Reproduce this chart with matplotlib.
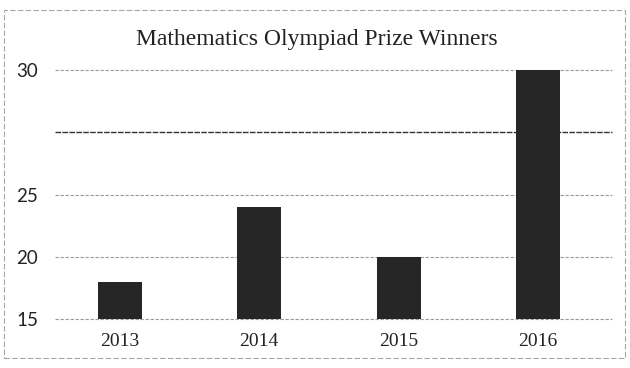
import numpy as np
import matplotlib
matplotlib.use("Agg")
import matplotlib.pyplot as plt
from matplotlib.patches import Rectangle

years = ["2013", "2014", "2015", "2016"]
winners = [18, 24, 20, 30]
tick_values = [15, 20, 25, 27.5, 30]
tick_labels = ["15", "20", "25", "", "30"]
title = "Mathematics Olympiad Prize Winners"


def forward(y):
    y = np.asarray(y, dtype=float)
    return np.where(y <= 25, y, 25 + 2 * (y - 25))


def inverse(t):
    t = np.asarray(t, dtype=float)
    return np.where(t <= 25, t, 25 + (t - 25) / 2)


fig = plt.figure(figsize=(6.3, 3.68), dpi=100)
fig.patch.set_facecolor("white")
ax = fig.add_axes([55 / 630, 1 - 319 / 368, (612 - 55) / 630, (319 - 70) / 368])
ax.set_yscale("function", functions=(forward, inverse))
ax.set_ylim(15, 30)
x = np.arange(len(years))
ax.set_xlim(-0.464, 3.53)

for v in tick_values:
    dark = v == 27.5
    ax.axhline(v, color="#333333" if dark else "#9a9a9a",
               lw=1.0 if dark else 0.8,
               ls=(0, (4, 1)) if dark else (0, (3, 1.5)), zorder=1,
               clip_on=False)

ax.bar(x, winners, width=0.314, color="#262626", zorder=2)

ax.set_yticks(tick_values)
ax.set_yticklabels(tick_labels, fontsize=13.5, family="Lato", color="#222222")
ax.set_xticks(x)
ax.set_xticklabels(years, fontsize=14, family="Liberation Serif", color="#222222")
ax.tick_params(axis="y", length=0, pad=12)
ax.tick_params(axis="x", length=0, pad=10)
for s in ax.spines.values():
    s.set_visible(False)

fig.text(317 / 630, 1 - 40 / 368, title, ha="center", va="center",
         fontsize=17, family="Liberation Serif", color="#222222")

# faint scanned border around the figure
fig.patches.append(Rectangle((4 / 630, 1 - 358 / 368), 621 / 630, 348 / 368,
                             transform=fig.transFigure, fill=False,
                             ec="#a5a5a5", lw=0.8, ls=(0, (5, 2))))

fig.savefig("out.png", dpi=100)
